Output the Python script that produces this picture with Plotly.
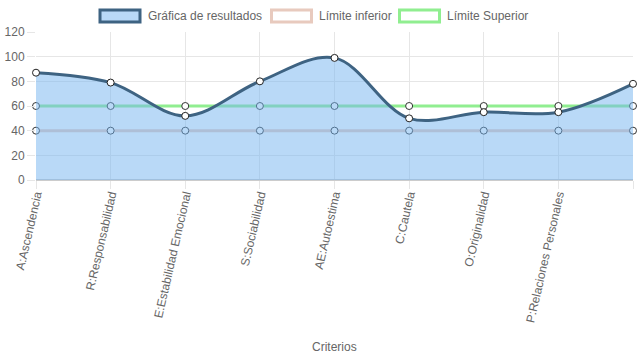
import plotly.graph_objects as go

categories = ["A:Ascendencia", "R:Responsabilidad", "E:Estabilidad Emocional",
              "S:Sociabilidad", "AE:Autoestima", "C:Cautela", "O:Originalidad",
              "P:Relaciones Personales", "V:Vigor"]
resultados = [87, 79, 52, 80, 99, 50, 55, 55, 78]
limite_inferior = [40, 40, 40, 40, 40, 40, 40, 40, 40]
limite_superior = [60, 60, 60, 60, 60, 60, 60, 60, 60]
y_ticks = [0, 20, 40, 60, 80, 100, 120]
legend_labels = ["Gráfica de resultados", "Límite inferior", "Límite Superior"]

W, H = 637, 359
L, R, T, B = 36, 4, 32, 179
PW, PH = W - L - R, H - T - B

FONT = "Liberation Sans, Arial, Helvetica, sans-serif"
GREY = "#666666"
BLUE_LINE = "rgb(62,99,130)"
BLUE_FILL = "rgba(115,180,240,0.5)"
PINK = "rgb(232,202,190)"
GREEN = "rgb(144,238,144)"

xi = list(range(len(categories)))

fig = go.Figure()
fig.add_trace(go.Scatter(
    x=xi, y=limite_superior, mode="lines+markers", showlegend=False,
    line=dict(color=GREEN, width=3),
    marker=dict(size=7, color="white", line=dict(color="#333333", width=1)),
    cliponaxis=False))
fig.add_trace(go.Scatter(
    x=xi, y=limite_inferior, mode="lines+markers", showlegend=False,
    line=dict(color=PINK, width=3),
    marker=dict(size=7, color="white", line=dict(color="#333333", width=1)),
    cliponaxis=False))
fig.add_trace(go.Scatter(
    x=xi, y=resultados, mode="lines+markers", showlegend=False,
    line=dict(color=BLUE_LINE, width=3, shape="spline", smoothing=1.0),
    fill="tozeroy", fillcolor=BLUE_FILL,
    marker=dict(size=7, color="white", line=dict(color="#222222", width=1)),
    cliponaxis=False))

def px_x(p):
    return (p - L) / PW

def px_y(p):
    return (H - B - p) / PH

# custom Chart.js-style legend
boxes = [(100, 140, BLUE_FILL, BLUE_LINE), (271.5, 311.5, "white", PINK),
         (399.5, 439.5, "white", GREEN)]
text_x = [146, 317, 445]
for (x0, x1, fc, lc), tx, lab in zip(boxes, text_x, legend_labels):
    fig.add_shape(type="rect", xref="paper", yref="paper",
                  x0=px_x(x0), x1=px_x(x1), y0=px_y(22), y1=px_y(10),
                  fillcolor=fc, line=dict(color=lc, width=3), layer="above")
    fig.add_annotation(xref="paper", yref="paper", x=px_x(tx), y=px_y(16),
                       xanchor="left", yanchor="middle", showarrow=False,
                       text=lab, font=dict(family=FONT, size=12, color=GREY))

fig.add_annotation(xref="paper", yref="paper", x=0.5, y=px_y(347),
                   xanchor="center", yanchor="middle", showarrow=False,
                   text="Criterios", font=dict(family=FONT, size=12, color=GREY))

fig.update_layout(
    width=W, height=H,
    margin=dict(l=L, r=R, t=T, b=B, pad=0),
    paper_bgcolor="white", plot_bgcolor="white",
    showlegend=False,
    font=dict(family=FONT, size=12, color=GREY),
    xaxis=dict(
        range=[0, len(categories) - 1], tickmode="array", tickvals=xi,
        ticktext=categories, tickangle=-77, showgrid=True,
        gridcolor="#e6e6e6", gridwidth=1, zeroline=False,
        ticks="outside", ticklen=8, tickcolor="#e6e6e6",
        ticklabelstandoff=-6,
        showline=False, automargin=False,
        tickfont=dict(family=FONT, size=12, color=GREY)),
    yaxis=dict(
        range=[0, 120], tickmode="array", tickvals=y_ticks,
        showgrid=True, gridcolor="#e6e6e6", gridwidth=1,
        zeroline=True, zerolinecolor="#cccccc", zerolinewidth=2,
        ticks="outside", ticklen=8, tickcolor="#e6e6e6",
        showline=False, automargin=False,
        tickfont=dict(family=FONT, size=12, color=GREY)),
)

fig.write_html("out.html",
               config={"displayModeBar": False},
               post_script="document.body.style.margin='0';"
                           "document.body.style.overflow='hidden';")
